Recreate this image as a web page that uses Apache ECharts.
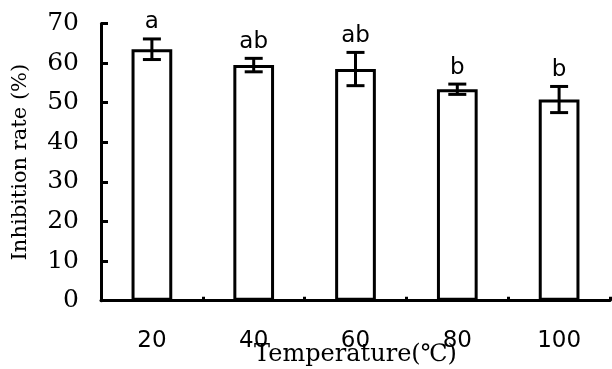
<!DOCTYPE html>
<html><head><meta charset="utf-8">
<script src="https://cdn.jsdelivr.net/npm/echarts@6/dist/echarts.min.js"></script>
<style>html,body{margin:0;padding:0;background:#fff}#c{width:612px;height:369px}</style>
</head><body><div id="c"></div>
<script>
var categories = ['20', '40', '60', '80', '100'];
var values = [63.5, 59.5, 58.5, 53.4, 50.8];
var errors = [2.6, 1.7, 4.2, 1.3, 3.3];
var letters = ['a', 'ab', 'ab', 'b', 'b'];
var yTicks = [0, 10, 20, 30, 40, 50, 60, 70];

var chart = echarts.init(document.getElementById('c'), null, {renderer: 'canvas'});
var errData = values.map(function (v, i) { return [i, v - errors[i], v + errors[i], letters[i]]; });

chart.setOption({
  animation: false,
  backgroundColor: '#fff',
  grid: {left: 101, right: 2, top: 23.5, bottom: 68.3, containLabel: false, outerBoundsMode: 'none'},
  xAxis: {
    type: 'category', data: categories, boundaryGap: true,
    axisLine: {lineStyle: {color: '#000', width: 3}},
    axisTick: {show: true, inside: true, length: 4, lineStyle: {color: '#000', width: 3}},
    axisLabel: {color: '#000', fontFamily: 'DejaVu Sans', fontSize: 23, margin: 29},
    name: 'Temperature(℃)', nameLocation: 'middle', nameGap: 42, nameMoveOverlap: false,
    nameTextStyle: {color: '#000', fontFamily: 'DejaVu Serif', fontSize: 24}
  },
  yAxis: {
    type: 'value', min: 0, max: 70, interval: 10,
    axisLine: {show: true, lineStyle: {color: '#000', width: 3}},
    axisTick: {show: true, inside: true, length: 7, lineStyle: {color: '#000', width: 3}},
    splitLine: {show: false},
    axisLabel: {color: '#000', fontFamily: 'DejaVu Serif', fontSize: 25, margin: 22,
      formatter: function (v) { return yTicks.indexOf(v) >= 0 ? String(v) : ''; }},
    name: 'Inhibition rate (%)', nameLocation: 'middle', nameGap: 70, nameMoveOverlap: false,
    nameTextStyle: {color: '#000', fontFamily: 'DejaVu Serif', fontSize: 21}
  },
  series: [
    {
      type: 'bar', data: values, barWidth: '40%',
      itemStyle: {color: '#fff', borderColor: '#000', borderWidth: 3}
    },
    {
      type: 'custom', data: errData, z: 5,
      renderItem: function (params, api) {
        var x = api.value(0);
        var lo = api.coord([x, api.value(1)]);
        var hi = api.coord([x, api.value(2)]);
        var hw = 9;
        var st = {stroke: '#000', lineWidth: 3};
        return {
          type: 'group',
          children: [
            {type: 'line', shape: {x1: lo[0], y1: lo[1], x2: hi[0], y2: hi[1]}, style: st},
            {type: 'line', shape: {x1: lo[0] - hw, y1: lo[1], x2: lo[0] + hw, y2: lo[1]}, style: st},
            {type: 'line', shape: {x1: hi[0] - hw, y1: hi[1], x2: hi[0] + hw, y2: hi[1]}, style: st},
            {type: 'text', x: hi[0], y: hi[1] - 5,
              style: {text: api.value(3), fill: '#000', font: '23px "DejaVu Sans"', textAlign: 'center', textVerticalAlign: 'bottom'}}
          ]
        };
      }
    }
  ]
});
</script></body></html>
